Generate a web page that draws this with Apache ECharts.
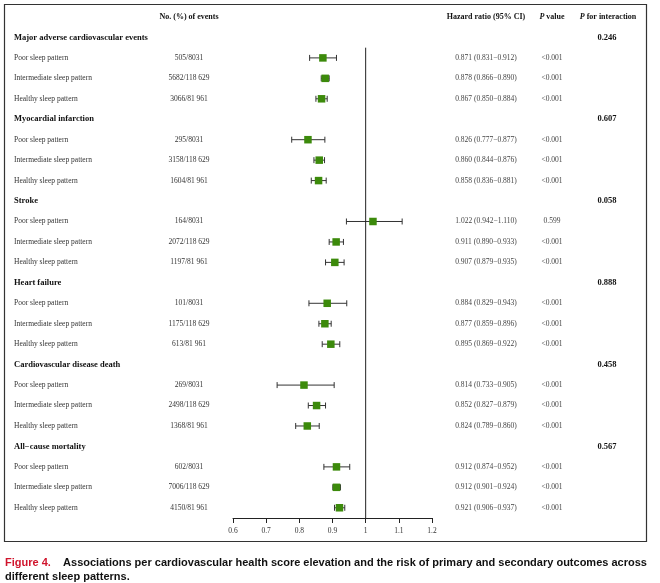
<!DOCTYPE html>
<html>
<head>
<meta charset="utf-8">
<script src="https://cdn.jsdelivr.net/npm/echarts@6/dist/echarts.min.js"></script>
<style>
  html, body { margin: 0; padding: 0; background: #fff; }
  #main { width: 660px; height: 583px; }
</style>
</head>
<body>
<div id="main"></div>
<script>
// outcomes and sleep pattern groups
const outcomes = ['Major adverse cardiovascular events', 'Myocardial infarction', 'Stroke',
  'Heart failure', 'Cardiovascular disease death', 'All\u2212cause mortality']
const patterns = ['Poor sleep pattern', 'Intermediate sleep pattern', 'Healthy sleep pattern']

const events = [
  ['505/8031', '5682/118 629', '3066/81 961'],
  ['295/8031', '3158/118 629', '1604/81 961'],
  ['164/8031', '2072/118 629', '1197/81 961'],
  ['101/8031', '1175/118 629', '613/81 961'],
  ['269/8031', '2498/118 629', '1368/81 961'],
  ['602/8031', '7006/118 629', '4150/81 961']
]
// hazard ratios with 95% CI
const hr = [
  [0.871, 0.878, 0.867],
  [0.826, 0.860, 0.858],
  [1.022, 0.911, 0.907],
  [0.884, 0.877, 0.895],
  [0.814, 0.852, 0.824],
  [0.912, 0.912, 0.921]
]
const lower = [
  [0.831, 0.866, 0.850],
  [0.777, 0.844, 0.836],
  [0.942, 0.890, 0.879],
  [0.829, 0.859, 0.869],
  [0.733, 0.827, 0.789],
  [0.874, 0.901, 0.906]
]
const upper = [
  [0.912, 0.890, 0.884],
  [0.877, 0.876, 0.881],
  [1.110, 0.933, 0.935],
  [0.943, 0.896, 0.922],
  [0.905, 0.879, 0.860],
  [0.952, 0.924, 0.937]
]
const pValues = [
  ['<0.001', '<0.001', '<0.001'],
  ['<0.001', '<0.001', '<0.001'],
  ['0.599', '<0.001', '<0.001'],
  ['<0.001', '<0.001', '<0.001'],
  ['<0.001', '<0.001', '<0.001'],
  ['<0.001', '<0.001', '<0.001']
]
const pInteraction = ['0.246', '0.607', '0.058', '0.888', '0.458', '0.567']
const xTicks = [0.6, 0.7, 0.8, 0.9, 1, 1.1, 1.2]

const serif = "'Liberation Serif', 'Times New Roman', serif"
const sans = "'Liberation Sans', Arial, sans-serif"

// build table rows: row 0 is the header, then 1 group row + 3 pattern rows per outcome
const rows = [{ header: true }]
const ciData = []
const hrData = []
outcomes.forEach((name, g) => {
  rows.push({ label: name, bold: true, pint: pInteraction[g] })
  patterns.forEach((p, i) => {
    const r = rows.length
    const fmt = v => v.toFixed(3)
    rows.push({
      label: p,
      events: events[g][i],
      hrText: fmt(hr[g][i]) + ' (' + fmt(lower[g][i]) + '\u2212' + fmt(upper[g][i]) + ')',
      p: pValues[g][i]
    })
    ciData.push([lower[g][i], upper[g][i], r])
    hrData.push([hr[g][i], r])
  })
})
const lastRow = rows.length - 1

const chart = echarts.init(document.getElementById('main'))

function txt(x, y, text, opt) {
  return {
    type: 'text',
    x: x, y: y,
    style: Object.assign({
      text: text,
      fontFamily: serif,
      fontSize: 7.5,
      fill: '#333',
      align: 'left',
      verticalAlign: 'middle'
    }, opt || {})
  }
}

const option = {
  animation: false,
  grid: { left: 233, right: 228, top: 17, bottom: 65 },
  xAxis: {
    type: 'value',
    min: 0.6,
    max: 1.2,
    interval: 0.1,
    splitLine: { show: false },
    axisLine: { show: true, onZero: false, lineStyle: { color: '#222', width: 1 } },
    axisTick: { show: true, length: 5, lineStyle: { color: '#222', width: 1 } },
    axisLabel: {
      margin: 9,
      fontFamily: serif,
      fontSize: 7.5,
      color: '#333',
      formatter: v => {
        const t = xTicks.find(k => Math.abs(k - v) < 1e-6)
        return t === undefined ? '' : String(t)
      }
    }
  },
  yAxis: {
    type: 'value',
    inverse: true,
    min: 0,
    max: lastRow + 0.5,
    show: false
  },
  graphic: [
    {
      type: 'rect',
      shape: { x: 4.5, y: 4.5, width: 642, height: 537 },
      style: { fill: 'none', stroke: '#333', lineWidth: 1.2 },
      silent: true
    },
    {
      type: 'text',
      x: 5, y: 563,
      style: {
        text: '{r|Figure 4.}    Associations per cardiovascular health score elevation and the risk of primary and secondary outcomes across',
        fontFamily: sans, fontSize: 11, fontWeight: 'bold', fill: '#111',
        verticalAlign: 'middle',
        rich: { r: { fill: '#d0142c', fontFamily: sans, fontSize: 11, fontWeight: 'bold' } }
      }
    },
    {
      type: 'text',
      x: 5, y: 577,
      style: {
        text: 'different sleep patterns.',
        fontFamily: sans, fontSize: 11, fontWeight: 'bold', fill: '#111',
        verticalAlign: 'middle'
      }
    }
  ],
  series: [
    {
      // reference line at HR = 1
      type: 'line',
      data: [[1, 1.5], [1, lastRow + 0.5]],
      symbol: 'none',
      silent: true,
      lineStyle: { color: '#222', width: 1 }
    },
    {
      // confidence intervals with caps
      type: 'custom',
      data: ciData,
      encode: { x: [0, 1], y: 2 },
      renderItem: (params, api) => {
        const a = api.coord([api.value(0), api.value(2)])
        const b = api.coord([api.value(1), api.value(2)])
        const s = { stroke: '#333', lineWidth: 1 }
        const h = 3
        return {
          type: 'group',
          children: [
            { type: 'line', shape: { x1: a[0], y1: a[1], x2: b[0], y2: b[1] }, style: s },
            { type: 'line', shape: { x1: a[0], y1: a[1] - h, x2: a[0], y2: a[1] + h }, style: s },
            { type: 'line', shape: { x1: b[0], y1: b[1] - h, x2: b[0], y2: b[1] + h }, style: s }
          ]
        }
      }
    },
    {
      // point estimates
      type: 'scatter',
      data: hrData,
      symbol: 'rect',
      symbolSize: 7.5,
      itemStyle: { color: '#3c8a0b', opacity: 1 },
      z: 5
    },
    {
      // table text, placed on the rows of the y scale
      type: 'custom',
      data: rows.map((r, i) => [1, i]),
      encode: { x: 0, y: 1 },
      silent: true,
      renderItem: (params, api) => {
        const i = api.value(1)
        const y = api.coord([1, i])[1]
        const r = rows[i]
        const children = []
        if (r.header) {
          const hb = { fontWeight: 'bold', fill: '#111', fontSize: 8 }
          const it = { i: { fontStyle: 'italic', fontWeight: 'bold', fontFamily: serif, fontSize: 8, fill: '#111' } }
          children.push(txt(189, y, 'No. (%) of events', Object.assign({ align: 'center' }, hb)))
          children.push(txt(486, y, 'Hazard ratio (95% CI)', Object.assign({ align: 'center' }, hb)))
          children.push(txt(552, y, '{i|P} value', Object.assign({ align: 'center', rich: it }, hb)))
          children.push(txt(608, y, '{i|P} for interaction', Object.assign({ align: 'center', rich: it }, hb)))
        } else if (r.bold) {
          children.push(txt(14, y, r.label, { fontWeight: 'bold', fill: '#111', fontSize: 8.5 }))
          children.push(txt(607, y, r.pint, { fontWeight: 'bold', fill: '#111', fontSize: 8.5, align: 'center' }))
        } else {
          children.push(txt(14, y, r.label))
          children.push(txt(189, y, r.events, { align: 'center' }))
          children.push(txt(486, y, r.hrText, { align: 'center', fill: '#444' }))
          children.push(txt(552, y, r.p, { align: 'center', fill: '#444' }))
        }
        return { type: 'group', children: children }
      }
    }
  ]
}

chart.setOption(option)
</script>
</body>
</html>
